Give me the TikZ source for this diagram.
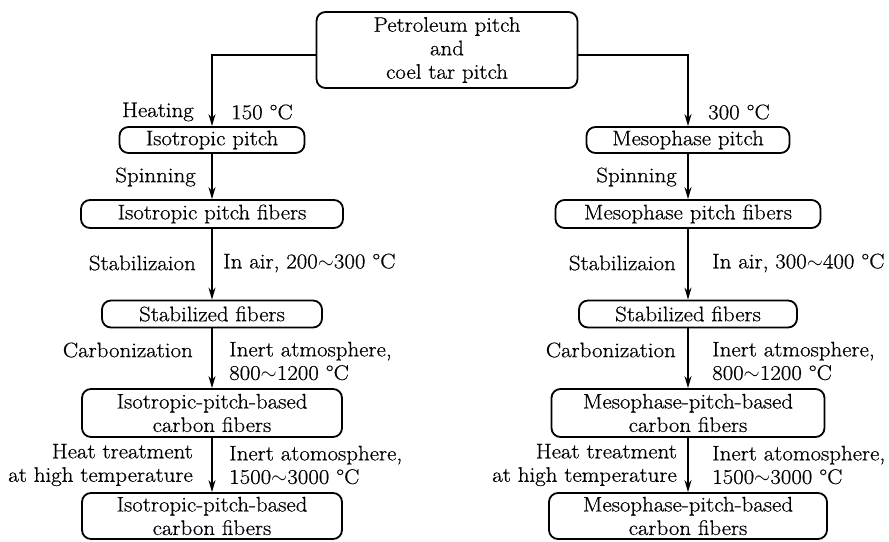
\documentclass[tikz,border=0pt]{standalone}
\usepackage{fontspec}
\setmainfont{Latin Modern Roman}[FakeStretch=1.09, FakeBold=0.6]
\usetikzlibrary{positioning, arrows.meta}
\tikzset{
  stagebox/.style={draw, line width=1.8pt, rounded corners=9pt, inner sep=0pt, align=center},
  flow/.style={-{Stealth[length=12pt, width=7pt]}, line width=1.8pt},
  steplbl/.style={anchor=east, align=right, inner sep=0pt},
  condlbl/.style={anchor=west, align=left, inner sep=0pt},
}
\newcommand{\range}{$\sim$}

\begin{document}
\begin{tikzpicture}[x=1pt, y=-1pt, font=\fontsize{21pt}{23.5pt}\selectfont]
  \useasboundingbox (0,0) rectangle (889,541);
  \node[stagebox, minimum width=261pt, minimum height=76pt] (raw) at (447,50)
    {Petroleum pitch\\and\\coel tar pitch};

  % isotropic route
  \node[stagebox, minimum width=185pt, minimum height=26pt] (iso1) at (212,140) {Isotropic pitch};
  \node[stagebox, minimum width=262pt, minimum height=28pt] (iso2) at (212,214) {Isotropic pitch fibers};
  \node[stagebox, minimum width=220pt, minimum height=27pt] (iso3) at (212,314) {Stabilized fibers};
  \node[stagebox, minimum width=260pt, minimum height=48pt] (iso4) at (212,413)
    {Isotropic-pitch-based\\carbon fibers};
  \node[stagebox, minimum width=260pt, minimum height=46pt] (iso5) at (212,516)
    {Isotropic-pitch-based\\carbon fibers};

  % mesophase route
  \node[stagebox, minimum width=203pt, minimum height=26pt] (meso1) at (688,140) {Mesophase pitch};
  \node[stagebox, minimum width=265pt, minimum height=28pt] (meso2) at (688,214) {Mesophase pitch fibers};
  \node[stagebox, minimum width=218pt, minimum height=27pt] (meso3) at (688,314) {Stabilized fibers};
  \node[stagebox, minimum width=273pt, minimum height=48pt] (meso4) at (688,413)
    {Mesophase-pitch-based\\carbon fibers};
  \node[stagebox, minimum width=278pt, minimum height=46pt] (meso5) at (688,516)
    {Mesophase-pitch-based\\carbon fibers};

  % connectors
  \draw[flow] ([yshift=-5pt]raw.west) -| (iso1.north);
  \draw[flow] ([yshift=-5pt]raw.east) -| (meso1.north);
  \foreach \a/\b in {iso1/iso2, iso2/iso3, iso3/iso4, iso4/iso5,
                     meso1/meso2, meso2/meso3, meso3/meso4, meso4/meso5}
    \draw[flow] (\a.south) -- (\b.north);

  % isotropic labels
  \node[steplbl] (isoheat) at (194,112) {Heating};
  \node[condlbl] (isoheatc) at (231,112) {150 °C};
  \node[steplbl] (isospin) at (196,177) {Spinning};
  \node[steplbl] (isostab) at (196,263) {Stabilizaion};
  \node[condlbl] (isostabc) at (223,263) {In air, 200\range300 °C};
  \node[steplbl] (isocarb) at (193,350) {Carbonization};
  \node[condlbl] (isocarbc) at (229,361) {Inert atmosphere,\\800\range1200 °C};
  \node[steplbl] (isoht) at (193,465) {Heat treatment\\at high temperature};
  \node[condlbl] (isohtc) at (229,465) {Inert atomosphere,\\1500\range3000 °C};

  % mesophase labels
  \node[condlbl] (mesoheatc) at (708,112) {300 °C};
  \node[steplbl] (mesospin) at (677,177) {Spinning};
  \node[steplbl] (mesostab) at (676,263) {Stabilizaion};
  \node[condlbl] (mesostabc) at (712,263) {In air, 300\range400 °C};
  \node[steplbl] (mesocarb) at (676,350) {Carbonization};
  \node[condlbl] (mesocarbc) at (712,361) {Inert atmosphere,\\800\range1200 °C};
  \node[steplbl] (mesoht) at (677,465) {Heat treatment\\at high temperature};
  \node[condlbl] (mesohtc) at (712,465) {Inert atomosphere,\\1500\range3000 °C};
\end{tikzpicture}
\end{document}
